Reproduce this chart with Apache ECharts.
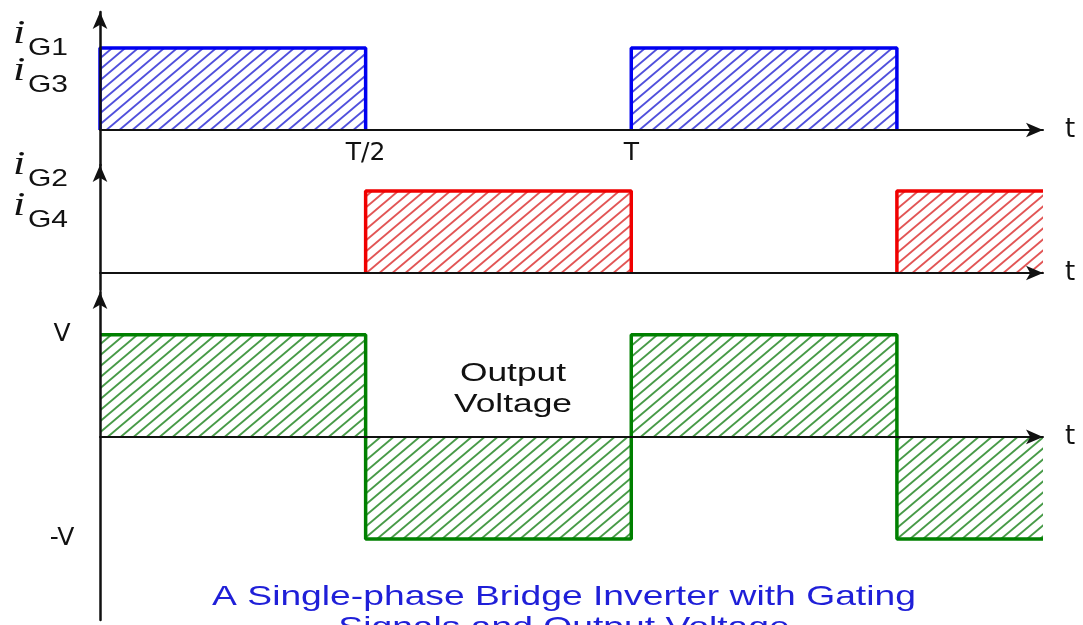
<!doctype html>
<html>
<head>
<meta charset="utf-8">
<title>Single-phase Bridge Inverter</title>
<script src="https://cdn.jsdelivr.net/npm/echarts@6/dist/echarts.min.js"></script>
<style>
  html, body { margin: 0; padding: 0; background: #fff; }
  #main { width: 1083px; height: 625px; }
</style>
</head>
<body>
<div id="main"></div>
<script>
// time in periods T, levels in per-unit
var tMax = 1.775;
var pulsesG13 = [[0, 0.5], [1, 1.5]];
var pulsesG24 = [[0.5, 1], [1.5, 1.775]];
var outTimes = [0, 0.5, 0.5, 1, 1, 1.5, 1.5, 1.775];
var outLevels = [1, 1, -1, -1, 1, 1, -1, -1];
var tickVals = [0.5, 1];
var tickLabels = ['T/2', 'T'];
var voltVals = [1, -1];
var voltLabels = ['V', '-V'];

// diagonal hatch tile
function hatch(color) {
    var w = 13, h = 11;
    var c = document.createElement('canvas');
    c.width = w; c.height = h;
    var g = c.getContext('2d');
    g.strokeStyle = color;
    g.lineWidth = 1.9;
    for (var k = 0; k <= 2; k++) {
        g.beginPath();
        g.moveTo(-w, h * (k + 1));
        g.lineTo(2 * w, h * (k - 2));
        g.stroke();
    }
    return {image: c, repeat: 'repeat'};
}

function pulsePoints(p) {
    var pts = [[p[0], 0], [p[0], 1], [p[1], 1]];
    if (p[1] < tMax) pts.push([p[1], 0]);
    return pts;
}

var blueHatch = hatch('#5050dc');
var redHatch = hatch('#e25555');
var greenHatch = hatch('#479a47');

var series = [];
pulsesG13.forEach(function (p) {
    series.push({
        type: 'line', xAxisIndex: 0, yAxisIndex: 0, data: pulsePoints(p),
        symbol: 'none', silent: true,
        lineStyle: {color: '#0000f0', width: 3.5},
        areaStyle: {color: blueHatch, opacity: 1}
    });
});
pulsesG24.forEach(function (p) {
    series.push({
        type: 'line', xAxisIndex: 1, yAxisIndex: 1, data: pulsePoints(p),
        symbol: 'none', silent: true,
        lineStyle: {color: '#f00000', width: 3.5},
        areaStyle: {color: redHatch, opacity: 1}
    });
});
series.push({
    type: 'line', xAxisIndex: 2, yAxisIndex: 2,
    data: outTimes.map(function (t, i) { return [t, outLevels[i]]; }),
    symbol: 'none', silent: true,
    lineStyle: {color: '#008000', width: 3.5},
    areaStyle: {color: greenHatch, opacity: 1}
});

function axLine(w) {
    return {lineStyle: {color: '#111', width: w}, symbol: ['none', 'arrow'], symbolSize: [11, 17], symbolOffset: [0, 0]};
}

function xAx(gi, labels) {
    return {
        type: 'value', gridIndex: gi, min: 0, max: tMax, z: 5,
        axisLine: axLine(2), axisTick: {show: false}, splitLine: {show: false},
        name: 't', nameLocation: 'end', nameGap: 22,
        nameTextStyle: {fontSize: 26, color: '#111', fontFamily: 'DejaVu Sans'},
        axisLabel: labels ? {
            show: true, customValues: tickVals, margin: -24, fontSize: 25, color: '#111',
            fontFamily: 'DejaVu Sans',
            formatter: function (v) { return tickLabels[tickVals.indexOf(v)]; }
        } : {show: false}
    };
}

function yAx(gi, min, max, labels) {
    return {
        type: 'value', gridIndex: gi, min: min, max: max, z: 5,
        axisLine: axLine(2.5), axisTick: {show: false}, splitLine: {show: false},
        axisLabel: labels ? {
            show: true, customValues: voltVals, margin: 38, align: 'center',
            fontSize: 25, color: '#111', fontFamily: 'DejaVu Sans', padding: [7, 0, 0, 0],
            formatter: function (v) { return voltLabels[voltVals.indexOf(v)]; }
        } : {show: false}
    };
}

function gateLabel(x, y, sub) {
    return [
        {type: 'text', x: x, y: y - 28, scaleX: 1.3, style: {text: 'i', font: 'italic 34px "Liberation Serif"', fill: '#111'}},
        {type: 'text', x: x + 15, y: y - 9, scaleX: 1.25, style: {text: sub, font: '24px "Liberation Sans"', fill: '#111'}}
    ];
}

var chart = echarts.init(document.getElementById('main'));
chart.setOption({
    animation: false,
    backgroundColor: '#fff',
    grid: [
        {left: 100, top: 12, width: 943, height: 153},
        {left: 100, top: 165, width: 943, height: 125},
        {left: 100, top: 292, width: 943, height: 328}
    ],
    xAxis: [xAx(0, true), xAx(1, false), xAx(2, false)],
    yAxis: [yAx(0, -0.427, 1.44, false), yAx(1, -0.207, 1.317, false), yAx(2, -1.794, 1.42, true)],
    graphic: [].concat(
        gateLabel(13, 45, 'G1'),
        gateLabel(13, 82, 'G3'),
        gateLabel(13, 176, 'G2'),
        gateLabel(13, 217, 'G4'),
        [{
            type: 'text', x: 513, y: 358, scaleX: 1.36,
            style: {text: 'Output\nVoltage', font: '26px "Liberation Sans"', fill: '#111', align: 'center', verticalAlign: 'top', lineHeight: 31}
        }, {
            type: 'text', x: 564, y: 582, scaleX: 1.33,
            style: {text: 'A Single-phase Bridge Inverter with Gating\nSignals and Output Voltage', font: '28px "Liberation Sans"', fill: '#1f1fd8', align: 'center', verticalAlign: 'top', lineHeight: 31}
        }]
    ),
    series: series
});
</script>
</body>
</html>
